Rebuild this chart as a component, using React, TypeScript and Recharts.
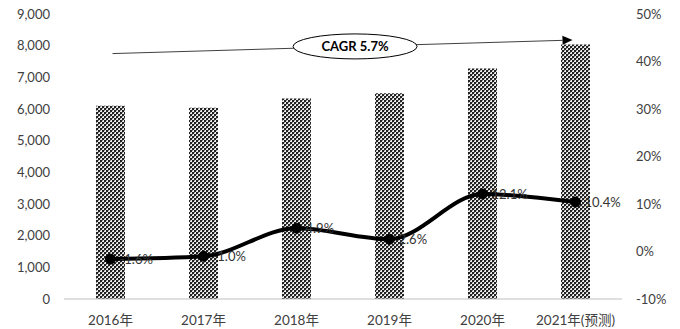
import React from 'react';
import { ComposedChart, Bar, Line, XAxis, YAxis, ReferenceLine, LabelList } from 'recharts';

const categories = ['2016年', '2017年', '2018年', '2019年', '2020年', '2021年(预测)'];
const revenue = [6100, 6040, 6335, 6500, 7280, 8040];
const growth = [-1.6, -1.0, 4.9, 2.6, 12.1, 10.4];
const growthLabels = ['-1.6%', '-1.0%', '4.9%', '2.6%', '12.1%', '10.4%'];
const leftTicks = [0, 1000, 2000, 3000, 4000, 5000, 6000, 7000, 8000, 9000];
const rightTicks = [-10, 0, 10, 20, 30, 40, 50];
const cagrText = 'CAGR 5.7%';
const cagrStart = 7750;
const cagrEnd = 8180;

const data = categories.map((c, i) => ({ name: c, revenue: revenue[i], growth: growth[i], label: growthLabels[i] }));

const FONT = "Lato, 'Noto Sans CJK SC', sans-serif";
const TICK = { fill: '#404040', fontSize: 13, fontFamily: FONT };

const GrowthLabel = (props: any) => {
  const { x, y, index } = props;
  return (
    <text x={x + 9} y={y} dominantBaseline="central" textAnchor="start" fill="#333" fontSize={13} fontFamily={FONT}>
      {growthLabels[index]}
    </text>
  );
};

const CagrShape = (props: any) => {
  const { x1, y1, x2, y2 } = props;
  const t = 0.526;
  const cx = x1 + (x2 - x1) * t;
  const cy = y1 + (y2 - y1) * t;
  const ang = Math.atan2(y2 - y1, x2 - x1);
  const tipX = x2 - 3;
  const tipY = y1 + (y2 - y1) * ((tipX - x1) / (x2 - x1));
  const hl = 10, hw = 4.5;
  const bx = tipX - hl * Math.cos(ang);
  const by = tipY - hl * Math.sin(ang);
  const px = -Math.sin(ang) * hw;
  const py = Math.cos(ang) * hw;
  return (
    <g>
      <line x1={x1 + 2} y1={y1} x2={bx} y2={by} stroke="#404040" strokeWidth={1} />
      <polygon points={`${tipX},${tipY} ${bx + px},${by + py} ${bx - px},${by - py}`} fill="#000" />
      <ellipse cx={cx} cy={cy} rx={62} ry={12.5} fill="#fff" stroke="#000" strokeWidth={1} />
      <text x={cx} y={cy} textAnchor="middle" dominantBaseline="central" fontSize={13} fontWeight="bold" fontFamily={FONT} fill="#000">
        {cagrText}
      </text>
    </g>
  );
};

export default function App() {
  return (
    <div style={{ position: 'absolute', left: 0, top: 0, background: '#fff' }}>
      <ComposedChart width={680} height={329} data={data} margin={{ top: 14, right: 0, bottom: 0, left: 0 }}>
        <defs>
          <pattern id="hatch" patternUnits="userSpaceOnUse" width="4" height="4">
            <rect x="0" y="0" width="4" height="4" fill="#ececec" />
            <rect x="0" y="0" width="2" height="2" fill="#222" />
            <rect x="2" y="2" width="2" height="2" fill="#222" />
            <rect x="2" y="0" width="1" height="1" fill="#888" />
            <rect x="0" y="2" width="1" height="1" fill="#888" />
          </pattern>
        </defs>
        <XAxis dataKey="name" height={30} tickLine={false} axisLine={{ stroke: '#bfbfbf' }}
          tick={{ ...TICK, fontSize: 13.5 }} tickMargin={10} interval={0} />
        <YAxis yAxisId="left" width={64} domain={[0, 9000]} ticks={leftTicks} axisLine={false} tickLine={false}
          tick={TICK} tickMargin={8} tickFormatter={(v: number) => v.toLocaleString('en-US')} />
        <YAxis yAxisId="right" orientation="right" width={58} domain={[-10, 50]} ticks={rightTicks} axisLine={false} tickLine={false}
          tick={{ ...TICK, textAnchor: 'start' }} tickMargin={8} tickFormatter={(v: number) => `${v}%`} />
        <Bar yAxisId="left" dataKey="revenue" fill="url(#hatch)" barSize={29} isAnimationActive={false} />
        <Line yAxisId="right" dataKey="growth" type="monotone" stroke="#000" strokeWidth={4}
          dot={{ r: 5, fill: '#000', stroke: '#000', strokeWidth: 1 }} isAnimationActive={false}>
          <LabelList dataKey="label" content={<GrowthLabel />} />
        </Line>
        <ReferenceLine yAxisId="left" segment={[{ x: categories[0], y: cagrStart }, { x: categories[5], y: cagrEnd }]}
          shape={(p: any) => <CagrShape {...p} />} />
      </ComposedChart>
    </div>
  );
}
